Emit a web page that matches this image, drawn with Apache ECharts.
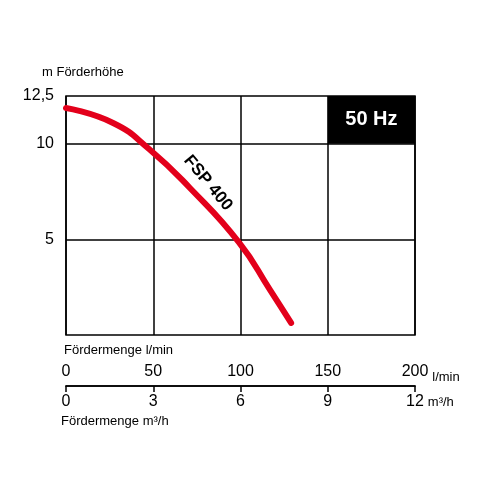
<!DOCTYPE html><html><head><meta charset="utf-8"><script src="https://cdn.jsdelivr.net/npm/echarts@6/dist/echarts.min.js"></script></head><body style="margin:0"><div id="c" style="width:480px;height:480px"></div><script>
const flowLmin=[0,27,47.6,71,99,117,129];
const head=[11.87,11.09,9.73,7.69,4.86,2.35,0.63];
const lminTicks=[0,50,100,150,200];
const m3hTicks=[0,3,6,9,12];
const yLabels={'5':'5','10':'10','12.5':'12,5'};
const F='Liberation Sans, Arial, sans-serif';
const ch=echarts.init(document.getElementById('c'));
ch.setOption({animation:false,
grid:[{left:66,right:65,top:96,height:239,show:true,borderColor:'#000',borderWidth:1.5},
      {left:66,right:65,top:386,height:0}],
xAxis:[{gridIndex:0,type:'value',min:0,max:200,interval:50,axisLabel:{show:false},axisTick:{show:false},axisLine:{show:false},splitLine:{show:true,lineStyle:{color:'#000',width:1.5}}},
 {gridIndex:1,type:'value',position:'top',min:0,max:200,interval:50,axisLine:{show:true,lineStyle:{color:'#000',width:1.5}},axisTick:{show:false},splitLine:{show:false},
  axisLabel:{color:'#000',fontSize:16,fontFamily:F,margin:6},name:'l/min',nameLocation:'end',nameGap:8,nameTextStyle:{color:'#000',fontSize:13,fontFamily:F,verticalAlign:'bottom',padding:[0,0,2,0]}},
 {gridIndex:1,type:'value',position:'bottom',min:0,max:12,interval:3,axisLine:{show:true,lineStyle:{color:'#000',width:1.5}},axisTick:{show:true,length:6,lineStyle:{color:'#000',width:1.5}},splitLine:{show:false},
  axisLabel:{color:'#000',fontSize:16,fontFamily:F,margin:8},name:'m³/h',nameLocation:'end',nameGap:8,nameTextStyle:{color:'#000',fontSize:13,fontFamily:F,verticalAlign:'top',padding:[10,0,0,0]}}],
yAxis:[{gridIndex:0,type:'value',min:0,max:12.5,interval:2.5,axisLine:{show:false},axisTick:{show:false},
  splitLine:{show:true,lineStyle:{color:['transparent','transparent','#000','transparent','#000','transparent'],width:1.5}},
  axisLabel:{color:'#000',fontSize:16,fontFamily:F,margin:12,formatter:v=>yLabels[String(v)]||''}},
 {gridIndex:1,type:'value',show:false}],
series:[{type:'line',xAxisIndex:0,yAxisIndex:0,data:flowLmin.map((x,i)=>[x,head[i]]),smooth:true,showSymbol:false,lineStyle:{color:'#e3001b',width:6,cap:'round'},
 markArea:{silent:true,itemStyle:{color:'#000'},label:{show:true,position:'inside',color:'#fff',fontSize:20,fontWeight:'bold',fontFamily:F,formatter:'50 Hz'},data:[[{xAxis:150,yAxis:10},{xAxis:200,yAxis:12.5}]]}}],
graphic:[
 {type:'text',left:42,top:66,style:{text:'m Förderhöhe',fontSize:13,fontFamily:F,fill:'#000'}},
 {type:'text',left:64,top:344,style:{text:'Fördermenge l/min',fontSize:13,fontFamily:F,fill:'#000'}},
 {type:'text',left:61,top:415,style:{text:'Fördermenge m³/h',fontSize:13,fontFamily:F,fill:'#000'}},
 {type:'text',x:208,y:183,rotation:-0.88,style:{text:'FSP 400',fontSize:17,fontWeight:'bold',fontFamily:F,fill:'#000',align:'center',verticalAlign:'middle'}}
]});
</script></body></html>
